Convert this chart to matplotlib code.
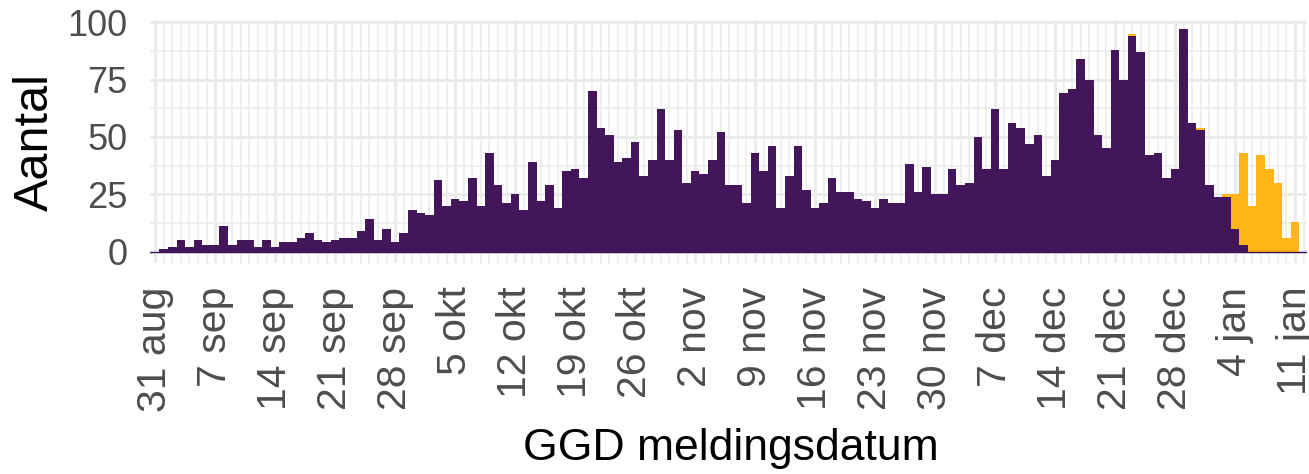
import pandas as pd
import matplotlib
matplotlib.use('Agg')
import matplotlib.pyplot as plt
import matplotlib.dates as mdates
import numpy as np

plt.rcParams['font.family'] = ['Liberation Sans', 'DejaVu Sans']

# dagelijkse aantallen vanaf 31 aug
start = '2020-08-31'
purple_vals = [0, 1, 2, 5, 2, 5, 3, 3, 11, 3, 5, 5, 2, 5, 2, 4, 4, 6, 8, 5,
               4, 5, 6, 6, 9, 14, 5, 10, 4, 8, 18, 17, 16, 31, 20, 23, 22, 32, 20, 43,
               29, 21, 25, 18, 39, 22, 29, 19, 35, 36, 32, 70, 54, 51, 39, 41, 48, 33, 40, 62,
               40, 53, 30, 35, 34, 40, 52, 29, 29, 21, 43, 35, 46, 19, 33, 46, 27, 19, 21, 32,
               26, 26, 23, 22, 19, 23, 21, 21, 38, 26, 37, 25, 25, 36, 29, 30, 50, 36, 62, 36,
               56, 54, 47, 51, 33, 40, 69, 71, 84, 75, 51, 45, 88, 75, 94, 87, 42, 43, 32, 36,
               97, 56, 53, 29, 24, 24, 10, 3, 0, 0, 0, 0, 0, 0]
orange_vals = [0] * 114 + [1, 0, 0, 0, 0, 0, 0, 0, 1, 0, 0, 1, 15, 40, 20, 42, 36, 30, 6, 13]

tick_labels = ['31 aug', '7 sep', '14 sep', '21 sep', '28 sep', '5 okt', '12 okt',
               '19 okt', '26 okt', '2 nov', '9 nov', '16 nov', '23 nov', '30 nov',
               '7 dec', '14 dec', '21 dec', '28 dec', '4 jan', '11 jan']
y_ticks = [0, 25, 50, 75, 100]

purple = np.array(purple_vals)
orange = np.array(orange_vals)
dates = pd.date_range(start, periods=len(purple), freq='D')
tick_dates = pd.date_range(start, periods=len(tick_labels), freq='7D')

col_purple = '#43165b'
col_orange = '#ffb515'
grid_col = '#ebebeb'

fig = plt.figure(figsize=(13.09, 4.74), dpi=100)
ax = fig.add_axes([150/1309, 1-263/474, 1157/1309, 243/474])

ax.bar(dates, purple, width=1.0, color=col_purple, linewidth=0, zorder=2)
ax.bar(dates, orange, width=1.0, bottom=purple, color=col_orange, linewidth=0, zorder=2)
ax.axhline(0, color=col_purple, lw=1.0, zorder=3)

ax.set_xlim(dates[0] - pd.Timedelta(days=0.6), dates[0] + pd.Timedelta(days=134.4))
ax.set_ylim(-5, 101)

ax.set_xticks(tick_dates)
ax.set_xticklabels(tick_labels, rotation=90, fontsize=29.5, color='#4d4d4d')
ax.xaxis.set_minor_locator(mdates.DayLocator())
ax.set_yticks(y_ticks)
ax.set_yticklabels([str(v) for v in y_ticks], fontsize=26, color='#4d4d4d')
ax.set_yticks([12.5, 37.5, 62.5, 87.5], minor=True)

ax.tick_params(axis='both', which='both', length=0)
ax.tick_params(axis='x', pad=17)
ax.tick_params(axis='y', pad=16)

ax.grid(True, which='major', color=grid_col, lw=2.2)
ax.grid(True, which='minor', color=grid_col, lw=1.1)
ax.set_axisbelow(True)
for s in ax.spines.values():
    s.set_visible(False)

fig.text(731/1309, 1-460/474, 'GGD meldingsdatum', fontsize=32, ha='center', va='baseline')
fig.text(48/1309, 1-142/474, 'Aantal', fontsize=35, rotation=90, rotation_mode='anchor',
         ha='center', va='baseline')

fig.savefig('out.png', dpi=100)
